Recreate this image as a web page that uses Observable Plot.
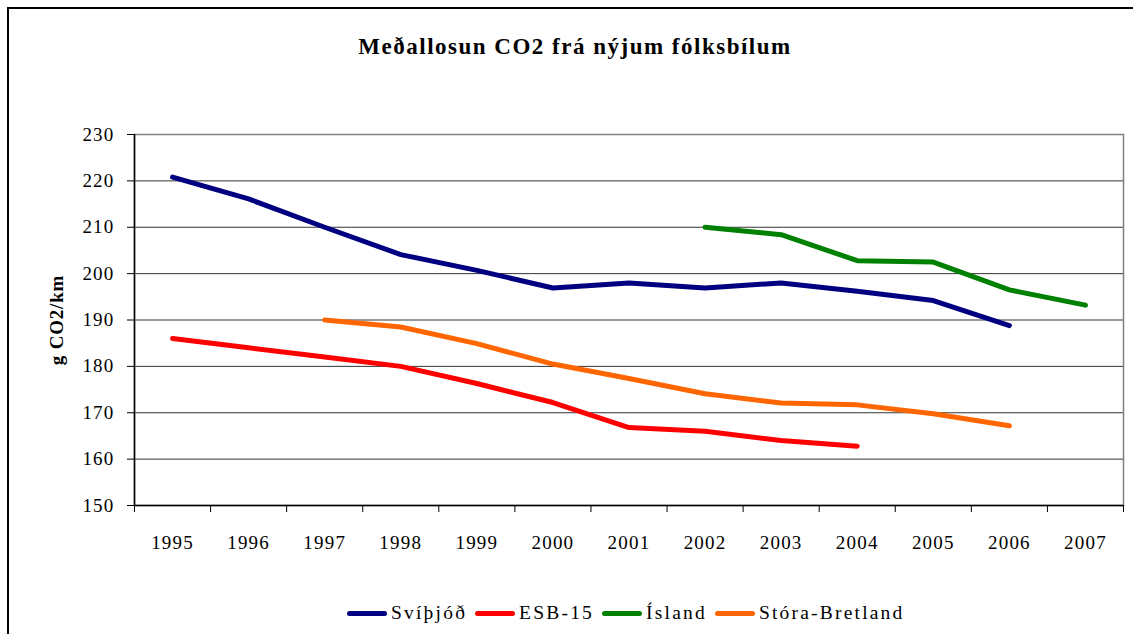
<!DOCTYPE html>
<html>
<head>
<meta charset="utf-8">
<script src="https://cdn.jsdelivr.net/npm/d3@7"></script>
<script src="https://cdn.jsdelivr.net/npm/@observablehq/plot@0.6"></script>
<style>
  html, body { margin: 0; padding: 0; background: #fff; }
  #wrap { position: relative; width: 1133px; height: 634px; overflow: hidden; background: #fff; font-family: "Liberation Serif", serif; color: #000; }
  #frame { position: absolute; left: 7px; top: 7px; width: 1200px; height: 700px; border-left: 2px solid #000; border-top: 2px solid #000; }
  #title { position: absolute; left: 575px; top: 32px; transform: translateX(-50%); white-space: nowrap; font-weight: bold; font-size: 23px; letter-spacing: 1.5px; line-height: 30px; }
  #ylabel { position: absolute; left: 57px; top: 320px; transform: translate(-50%, -50%) rotate(-90deg); white-space: nowrap; font-weight: bold; font-size: 19px; letter-spacing: 0.8px; }
  #chart { position: absolute; left: 0; top: 100px; }
  #legend { position: absolute; left: 347px; top: 600px; display: flex; align-items: center; font-size: 19.5px; letter-spacing: 2.2px; line-height: 26px; white-space: nowrap; }
  .item { display: flex; align-items: center; margin-right: 8px; }
  .sw { width: 40px; height: 5px; border-radius: 3px; margin-right: 4px; }
</style>
</head>
<body>
<div id="wrap">
  <div id="frame"></div>
  <div id="title"></div>
  <div id="ylabel"></div>
  <div id="chart"></div>
  <div id="legend"></div>
</div>
<script>
const titleText = "Meðallosun CO2 frá nýjum fólksbílum";
const yLabel = "g CO2/km";
const years = [1995, 1996, 1997, 1998, 1999, 2000, 2001, 2002, 2003, 2004, 2005, 2006, 2007];
const yTicks = [150, 160, 170, 180, 190, 200, 210, 220, 230];
const seriesNames = ["Svíþjóð", "ESB-15", "Ísland", "Stóra-Bretland"];
const seriesColors = ["#000080", "#FF0000", "#008000", "#FF6600"];
const svithjod = [220.8, 216.1, 210, 204.1, 200.7, 196.9, 198, 196.9, 198, 196.2, 194.2, 188.8, null];
const esb15 = [186, 184, 182, 180, 176.3, 172.2, 166.8, 166, 164, 162.8, null, null, null];
const island = [null, null, null, null, null, null, null, 210, 208.4, 202.8, 202.5, 196.5, 193.2];
const storaBretland = [null, null, 190, 188.5, 184.9, 180.5, 177.4, 174.1, 172.1, 171.7, 169.8, 167.2, null];

const seriesValues = [svithjod, esb15, island, storaBretland];
const rows = [];
seriesNames.forEach((name, i) => {
  seriesValues[i].forEach((v, j) => {
    if (v != null) rows.push({series: name, year: years[j], value: v});
  });
});
const boundaries = years.map(y => y - 0.5).concat([years[years.length - 1] + 0.5]);

document.getElementById("title").textContent = titleText;
document.getElementById("ylabel").textContent = yLabel;

const chart = Plot.plot({
  width: 1133,
  height: 470,
  marginLeft: 134,
  marginRight: 10,
  marginTop: 34,
  marginBottom: 65,
  style: { fontFamily: "Liberation Serif", fontSize: "19px", color: "#000", background: "transparent", letterSpacing: "1.2px", overflow: "visible" },
  x: { domain: [boundaries[0], boundaries[boundaries.length - 1]] },
  y: { domain: [yTicks[0], yTicks[yTicks.length - 1]] },
  color: { domain: seriesNames, range: seriesColors },
  marks: [
    Plot.gridY(yTicks, { stroke: "#000", strokeOpacity: 0.8 }),
    Plot.frame({ stroke: "#808080", strokeWidth: 1.5 }),
    Plot.ruleY([yTicks[0]], { stroke: "#000", strokeWidth: 1.5 }),
    Plot.ruleX([boundaries[0]], { stroke: "#000", strokeWidth: 1.5 }),
    Plot.axisY(yTicks, { tickSize: 7, tickPadding: 13, label: null, tickFormat: d => String(d) }),
    Plot.axisX(boundaries, { tickSize: 7, tickFormat: () => "", label: null }),
    Plot.axisX(years, { tickSize: 0, tickPadding: 30, tickFormat: d => String(d), label: null }),
    Plot.line(rows, { x: "year", y: "value", z: "series", stroke: "series", strokeWidth: 5, strokeLinecap: "round", strokeLinejoin: "round" })
  ]
});
document.getElementById("chart").appendChild(chart);

const legend = document.getElementById("legend");
seriesNames.forEach((name, i) => {
  const item = document.createElement("div");
  item.className = "item";
  const sw = document.createElement("div");
  sw.className = "sw";
  sw.style.background = seriesColors[i];
  const t = document.createElement("span");
  t.textContent = name;
  item.appendChild(sw);
  item.appendChild(t);
  legend.appendChild(item);
});
</script>
</body>
</html>
